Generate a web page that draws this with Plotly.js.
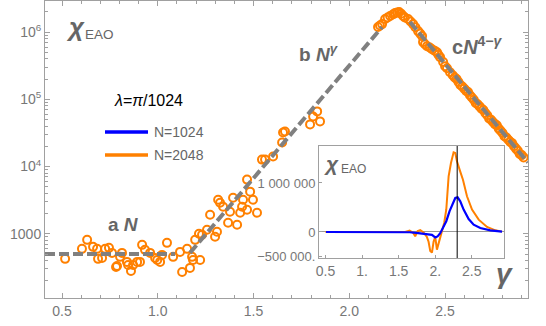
<!DOCTYPE html>
<html><head><meta charset="utf-8">
<script src="https://cdn.plot.ly/plotly-3.0.1.min.js"></script>
<style>html,body{margin:0;padding:0;background:#fff;}#chart{width:546px;height:326px;}</style>
</head><body><div id="chart"></div>
<script>
// ---- main panel: N=2048 data (log scale) ----
const gammaLow = [0.516,0.604,0.631,0.662,0.683,0.688,0.709,0.725,0.745,0.761,0.782,0.787,0.803,0.813,0.839,0.845,0.860,0.871,0.892,0.907,0.918,0.933,0.960,0.986,0.997,1.012,1.022,1.048,1.080,1.116,1.127,1.153,1.168,1.179,1.195,1.215];
const chiLow   = [424,597,813,640,597,424,438,597,618,520,321,333,454,520,382,344,281,344,382,382,685,577,520,438,409,382,486,734,454,538,271,597,311,454,813,1000];
const gammaMid = [1.184,1.221,1.231,1.257,1.273,1.299,1.309,1.315,1.325,1.341,1.367,1.377,1.393,1.414,1.430,1.440,1.445,1.466,1.466,1.482,1.497,1.518,1.544,1.560,1.602,1.649,1.654,1.664,1.795,1.811,1.832,1.847];
const chiMid   = [409,409,966,1148,1923,902,1072,3214,2904,2529,1459,2128,3444,1362,2056,2529,3214,2280,6397,4236,3214,2056,12700,12700,14090,22800,32100,33300,42400,55700,66200,47000];
const gammaPeak = [2.150,2.160,2.171,2.187,2.200,2.213,2.230,2.239,2.250,2.260,2.270,2.281,2.290,2.307,2.320,2.333,2.345,2.359,2.370,2.380,2.385,2.395,2.406,2.420,2.432,2.445,2.458,2.465,2.474,2.490,2.500,2.510,2.526];
const chiPeak   = [1190000,1250000,1315000,1563000,1650000,1734000,1850000,1923000,1960000,1991000,1880000,1734000,1650000,1563000,1440000,1315000,1180000,1035000,950000,871000,710000,660000,618000,590000,557000,530000,502000,460000,424000,360000,311000,290000,253000];
const gammaFall = [2.54,2.55,2.56,2.57,2.58,2.59,2.60,2.61,2.62,2.63,2.64,2.65,2.66,2.67,2.68,2.69,2.70,2.71,2.72,2.73,2.74,2.75,2.76,2.77,2.78,2.79,2.80,2.81,2.82,2.83,2.84,2.85,2.86,2.87,2.88,2.89,2.90,2.91];
const chiFall   = [227500,210900,201000,181100,163000,155600,144200,133700,128000,114800,106400,98600,88000,84700,78500,72800,69500,62500,57900,52000,49800,46100,42800,41000,36700,34000,31600,28300,27100,25100,23300,22300,20000,18500,17200,15400,14800,13700];

// ---- fitted power laws (endpoints) ----
const fitAX = [0.411, 1.090], fitAY = [500, 500];          // a N
const fitBX = [1.168, 2.171], fitBY = [520, 1190000];      // b N^gamma
const fitCX = [2.317, 2.933], fitCY = [1410000, 11500];    // c N^(4-gamma)

// ---- inset: linear chi_EAO ----
const insetOrangeX = [0.5,1.0,1.5,1.589,1.65,1.70,1.726,1.76,1.795,1.840,1.886,1.909,1.932,1.955,1.977,2.000,2.023,2.046,2.068,2.091,2.123,2.151,2.183,2.215,2.251,2.274,2.297,2.333,2.379,2.434,2.503,2.594,2.708,2.822,2.913];
const insetOrangeY = [0,0,0,0,30000,-20000,-88000,20000,40000,-10000,-100000,-200000,-390000,-420000,-200000,-100000,-360000,-220000,-150000,-10000,190000,460000,1136000,1408000,1626000,1612000,1442000,1272000,1068000,728000,456000,252000,102000,34000,7000];
const insetBlueX = [0.507,1.0,1.5,1.65,1.74,1.82,1.886,1.955,2.000,2.032,2.068,2.105,2.151,2.196,2.242,2.274,2.306,2.342,2.388,2.457,2.525,2.616,2.753,2.913];
const insetBlueY = [0,0,0,-5000,-20000,-30000,-40000,-60000,-110000,-90000,-25000,90000,220000,425000,592000,694000,707000,626000,456000,265000,150000,82000,34000,7000];
const markerGamma = 2.30;

// ---- tick labels ----
const xTickVals = [0.5,1.0,1.5,2.0,2.5];
const xTickText = ["0.5","1.0","1.5","2.0","2.5"];
const yTickVals = [1000,10000,100000,1000000];
const yTickText = ["1000","10<sup>4</sup>","10<sup>5</sup>","10<sup>6</sup>"];
const yMinorVals = [200,300,400,500,600,700,800,900,2000,3000,4000,5000,6000,7000,8000,9000,20000,30000,40000,50000,60000,70000,80000,90000,200000,300000,400000,500000,600000,700000,800000,900000,2000000];
const insetXTickText = ["0.5","1.","1.5","2.","2.5"];
const insetYTickVals = [-500000,0,1000000];
const insetYTickText = ["\u2212500 000.","0","1 000 000"];
const seriesNames = ["N=1024","N=2048"];

const ORANGE = "#ff8000", BLUE = "#0000ff", GRAY = "#808080";
const FRAME = "#a0a0a0", TICKC = "#777", TXT = "#666";
const FONT = "Liberation Sans, Arial, sans-serif";

const mk = (x,y) => ({x:x, y:y, type:"scatter", mode:"markers", xaxis:"x", yaxis:"y", showlegend:false,
  marker:{symbol:"circle-open", size:8, color:ORANGE, line:{width:2, color:ORANGE}}, hoverinfo:"skip"});
const fit = (x,y) => ({x:x, y:y, type:"scatter", mode:"lines", xaxis:"x", yaxis:"y", showlegend:false,
  line:{color:GRAY, width:4, dash:"10px,4px"}, hoverinfo:"skip"});

const data = [
  mk(gammaLow, chiLow), mk(gammaMid, chiMid), mk(gammaPeak, chiPeak), mk(gammaFall, chiFall),
  fit(fitAX, fitAY), fit(fitBX, fitBY), fit(fitCX, fitCY),
  {x:insetOrangeX, y:insetOrangeY, type:"scatter", mode:"lines", xaxis:"x2", yaxis:"y2", showlegend:false,
   line:{color:ORANGE, width:2}},
  {x:insetBlueX, y:insetBlueY, type:"scatter", mode:"lines", xaxis:"x2", yaxis:"y2", showlegend:false,
   line:{color:BLUE, width:2.2}}
];

// main plot pixel->paper helpers (plot area x:45..528, y:1..298)
const px = p => (p-45)/483, py = p => (298-p)/297;
const ann = (x, y, text, size, color, xa) => ({xref:"paper", yref:"paper", x:px(x), y:py(y),
  text:text, showarrow:false, xanchor:xa||"center", yanchor:"middle",
  font:{size:size, color:color||TXT, family:FONT}});

const layout = {
  width:546, height:326, margin:{l:45, r:18, t:1, b:28},
  paper_bgcolor:"#fff", plot_bgcolor:"rgba(0,0,0,0)",
  font:{family:FONT, size:13, color:TICKC},
  showlegend:false,
  xaxis:{domain:[0,1], range:[0.411,2.933], anchor:"y", showgrid:false, zeroline:false,
    showline:true, linecolor:FRAME, linewidth:1, mirror:"allticks",
    ticks:"inside", ticklen:5, tickcolor:FRAME, tickvals:xTickVals, ticktext:xTickText,
    minor:{dtick:0.1, tick0:0, ticks:"inside", ticklen:3, tickcolor:FRAME},
    tickfont:{size:14, color:TICKC}},
  yaxis:{domain:[0,1], type:"log", range:[Math.log10(111), Math.log10(2.9e6)], anchor:"x",
    showgrid:false, zeroline:false, showline:true, linecolor:FRAME, linewidth:1, mirror:"allticks",
    ticks:"inside", ticklen:5, tickcolor:FRAME, tickvals:yTickVals, ticktext:yTickText,
    minor:{tickmode:"array", tickvals:yMinorVals, ticks:"inside", ticklen:3, tickcolor:FRAME},
    tickfont:{size:14, color:TICKC}},
  xaxis2:{domain:[px(319), px(504)], range:[0.411,2.94], anchor:"y2", showgrid:false, zeroline:false,
    showline:true, linecolor:FRAME, linewidth:1, mirror:true,
    ticks:"inside", ticklen:3, tickcolor:FRAME, tickvals:xTickVals, ticktext:insetXTickText,
    tickfont:{size:14, color:TICKC}},
  yaxis2:{domain:[py(258), py(146)], range:[-531000,1755000], anchor:"x2", showgrid:false,
    zeroline:true, zerolinecolor:"#999", zerolinewidth:1,
    showline:true, linecolor:FRAME, linewidth:1, mirror:true,
    ticks:"inside", ticklen:3, tickcolor:FRAME, tickvals:insetYTickVals, ticktext:insetYTickText,
    tickfont:{size:13, color:TICKC}},
  shapes:[
    {type:"rect", xref:"x2 domain", yref:"y2 domain", x0:0, x1:1, y0:0, y1:1, fillcolor:"#fff", line:{width:0}, layer:"below"},
    {type:"line", xref:"x2", yref:"y2 domain", x0:markerGamma, x1:markerGamma, y0:0, y1:1, line:{color:"#000", width:1}},
    {type:"line", xref:"paper", yref:"paper", x0:px(105), x1:px(148), y0:py(132), y1:py(132), line:{color:BLUE, width:3.5}},
    {type:"line", xref:"paper", yref:"paper", x0:px(105), x1:px(148), y0:py(155), y1:py(155), line:{color:ORANGE, width:3.5}}
  ],
  annotations:[
    ann(75, 27, "<b><i>\u03c7</i></b>", 26),
    ann(83, 34, "EAO", 13.5, TXT, "left"),
    ann(148, 100, "<i>\u03bb</i>=<i>\u03c0</i>/1024", 16, "#000"),
    ann(152, 132, seriesNames[0], 14, TXT, "left"),
    ann(152, 155, seriesNames[1], 14, TXT, "left"),
    ann(123, 224, "<b>a <i>N</i></b>", 19),
    ann(318, 53, "<b>b <i>N</i><sup><i>\u03b3</i></sup></b>", 19),
    ann(477, 45, "<b>c<i>N</i><sup>4\u2212<i>\u03b3</i></sup></b>", 20),
    ann(504, 273, "<b><i>\u03b3</i></b>", 28),
    ann(331, 163, "<b><i>\u03c7</i></b>", 21),
    ann(339, 169, "EAO", 12, TXT, "left")
  ]
};

Plotly.newPlot("chart", data, layout, {staticPlot:true, displayModeBar:false});
</script></body></html>
